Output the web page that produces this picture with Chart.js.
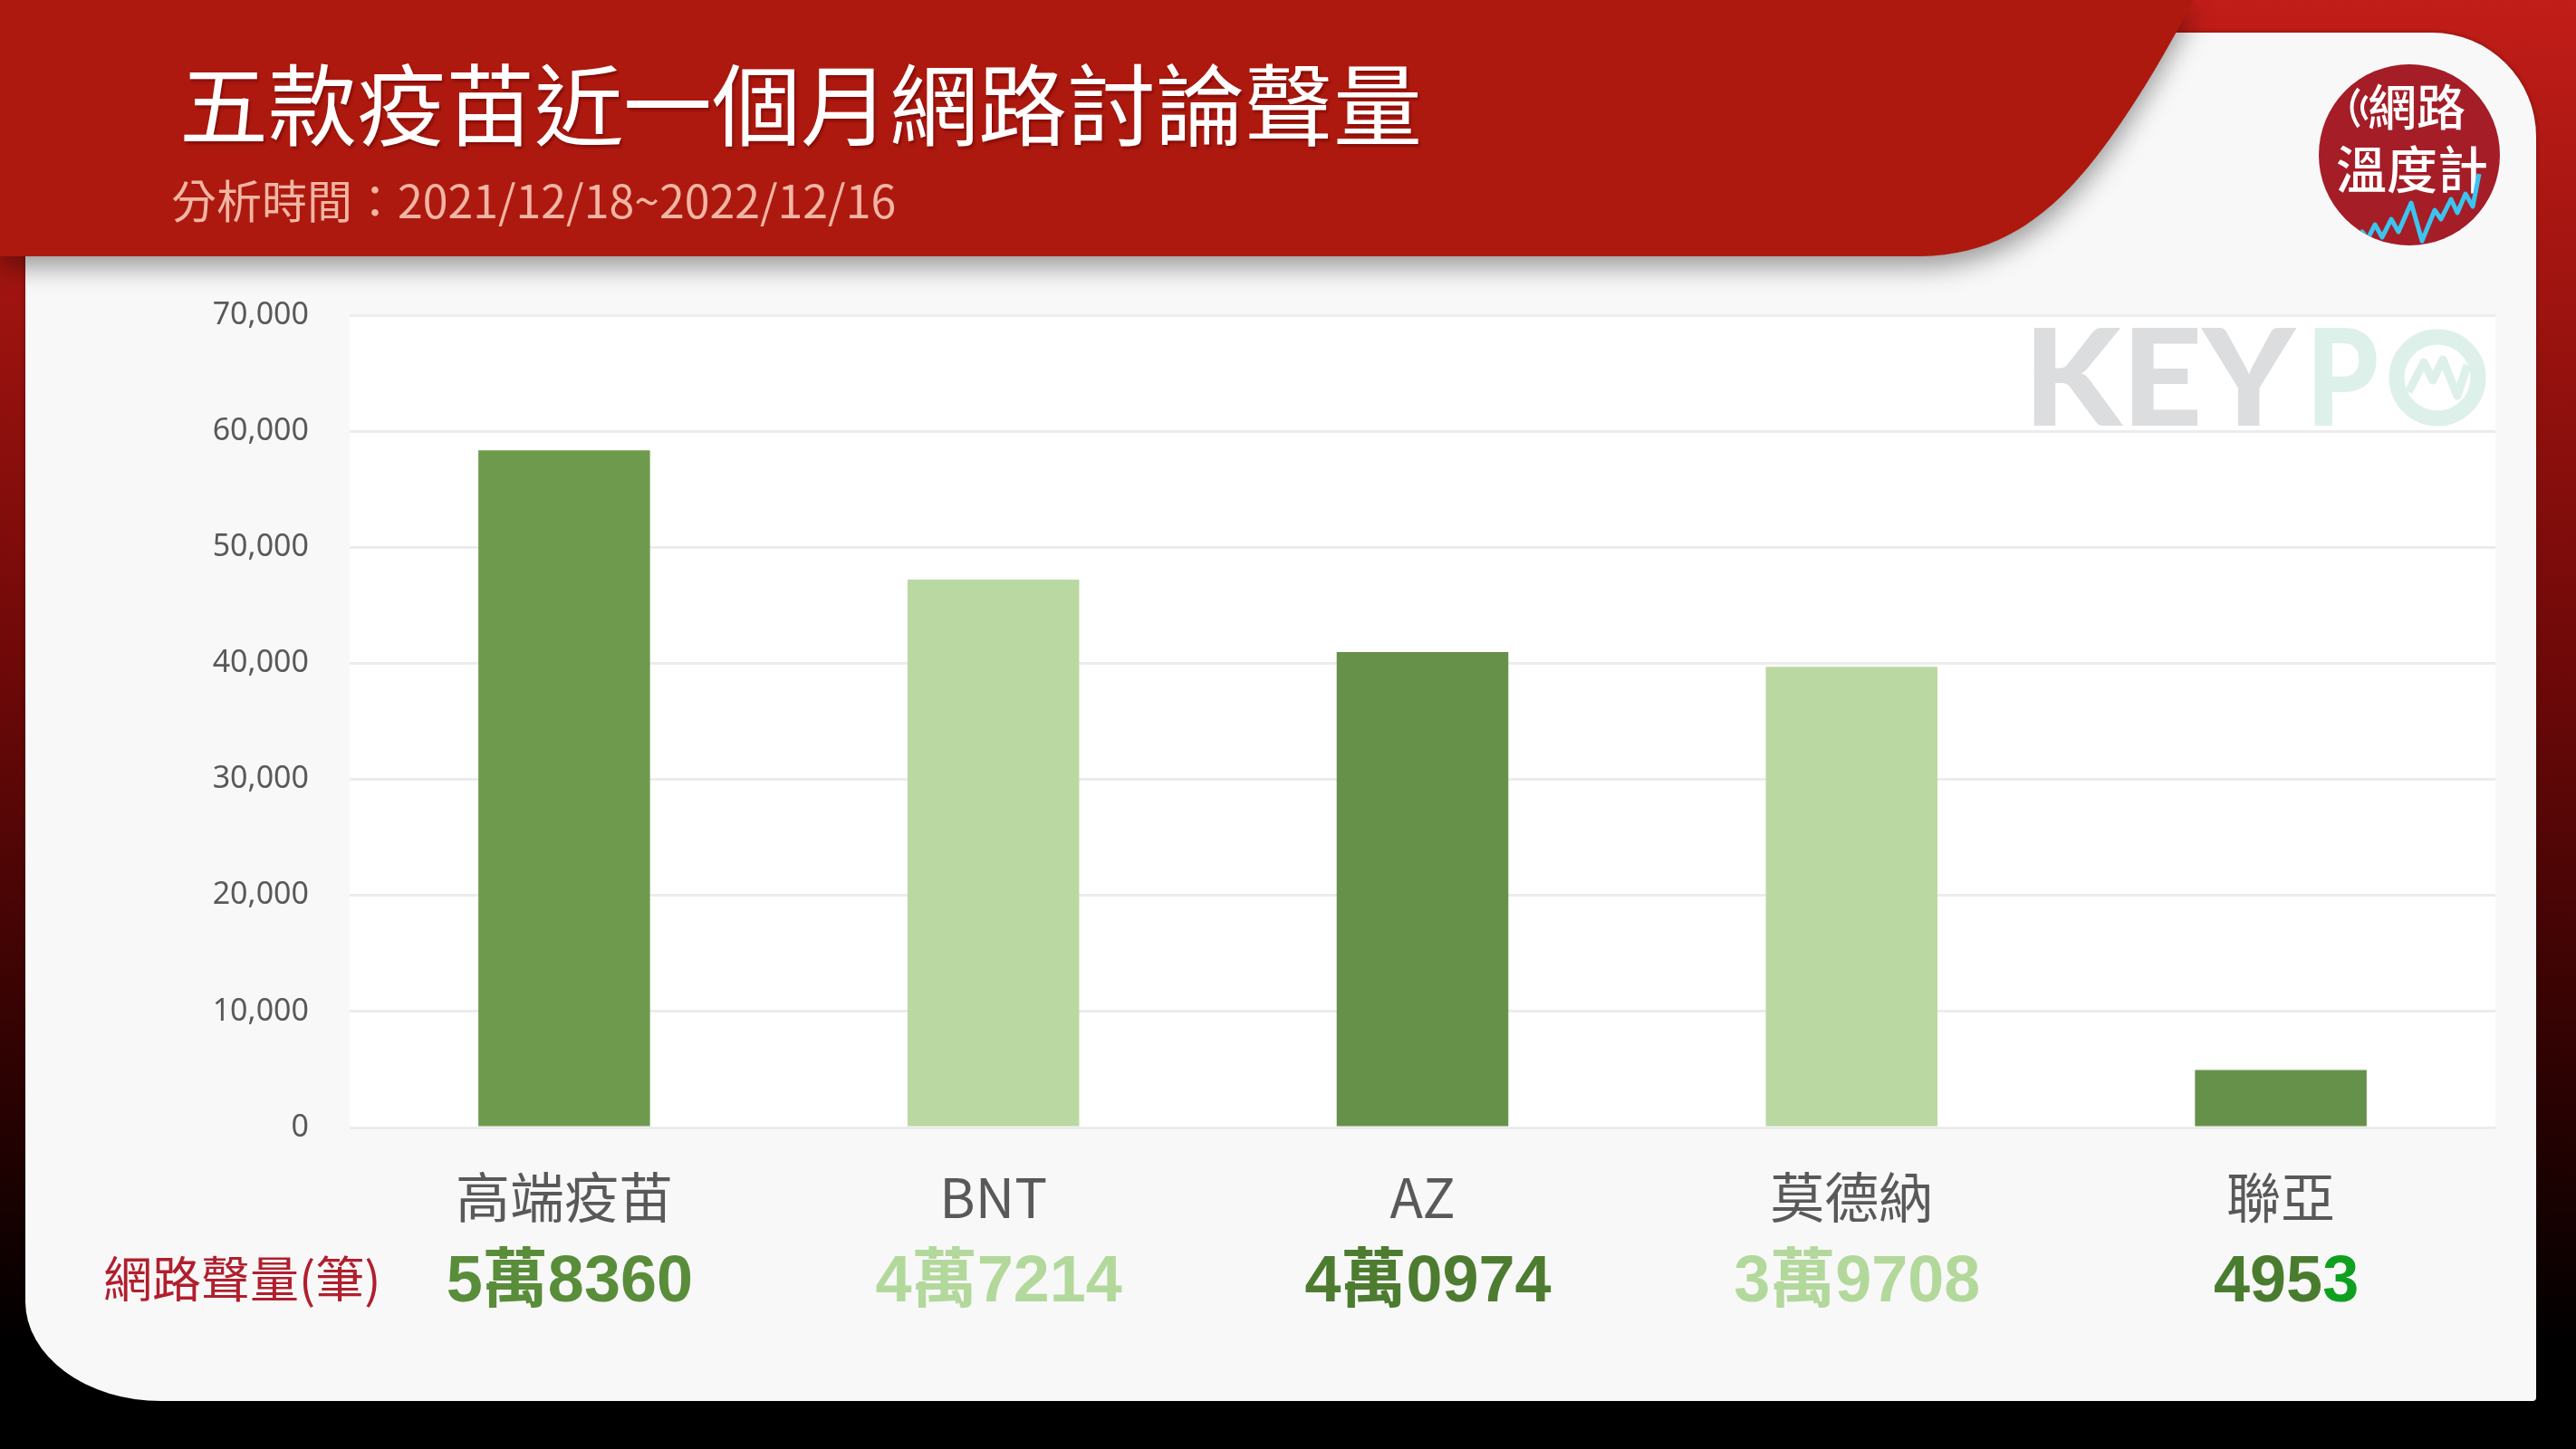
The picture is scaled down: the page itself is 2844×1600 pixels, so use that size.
<!DOCTYPE html>
<html>
<head>
<meta charset="utf-8">
<script src="https://cdn.jsdelivr.net/npm/chart.js@4.4.0/dist/chart.umd.min.js"></script>
<style>
  html, body { margin: 0; padding: 0; }
  body {
    width: 2844px; height: 1600px; position: relative; overflow: hidden;
    background: linear-gradient(to bottom, #c21d18 0%, #9c130f 22%, #6a0808 48%, #2e0202 74%, #000 93%);
    font-family: "Noto Sans CJK TC", "Noto Sans", sans-serif;
  }
  .card {
    position: absolute; left: 28px; top: 36px; width: 2772px; height: 1511px;
    background: #f8f8f8;
    border-radius: 0 115px 4px 150px / 0 115px 4px 110px;
    box-shadow: 0 0 5px rgba(0,0,0,0.35);
  }
  .abs { position: absolute; white-space: nowrap; line-height: 1; }
  #title { left: 198px; top: 61px; font-size: 98px; color: #fff; text-shadow: 2px 3px 3px rgba(90,0,0,0.45); }
  #subtitle { left: 189px; top: 194px; font-size: 50px; color: #f1b5a3; }
  #rowLabel { left: 114px; top: 1383px; font-size: 54px; color: #b01f2d; }
  canvas { position: absolute; left: 0; top: 0; }
  svg { position: absolute; left: 0; top: 0; }
</style>
</head>
<body>
<div class="card"></div>

<svg width="2844" height="1600" style="filter: drop-shadow(0 12px 14px rgba(0,0,0,0.38));">
  <path d="M0,0 L2422,0 C2390,60 2350,130 2305,185 C2255,245 2200,282 2120,283 L0,283 Z" fill="#ad190f"/>
</svg>

<div id="title" class="abs">五款疫苗近一個月網路討論聲量</div>
<div id="subtitle" class="abs">分析時間：2021/12/18~2022/12/16</div>
<div id="rowLabel" class="abs">網路聲量(筆)</div>

<canvas id="chart" width="2844" height="1600"></canvas>

<svg width="2844" height="1600" style="pointer-events:none;">
  <!-- KEYPO watermark -->
  <text x="2234" y="470" font-family="Lato, 'Open Sans', sans-serif" font-weight="900" font-size="148" fill="#dcdddf" textLength="300" lengthAdjust="spacingAndGlyphs">KEY</text>
  <text x="2546" y="470" font-family="Lato, 'Open Sans', sans-serif" font-weight="900" font-size="148" fill="#ddf0ea" textLength="80" lengthAdjust="spacingAndGlyphs">P</text>
  <circle cx="2691" cy="417" r="45" fill="none" stroke="#ddf0ea" stroke-width="17"/>
  <polyline points="2659,433 2676,400 2686,420 2697,397 2713,437 2724,403" fill="none" stroke="#ddf0ea" stroke-width="9" stroke-linejoin="round"/>

  <!-- badge -->
  <defs><clipPath id="badgeClip"><circle cx="2660" cy="171" r="100"/></clipPath></defs>
  <circle cx="2660" cy="171" r="100" fill="#a51d27"/>
  <path d="M2604,98 Q2589,118 2604,140" fill="none" stroke="#fff" stroke-width="4"/>
  <path d="M2613,106 Q2603,118 2613,132" fill="none" stroke="#fff" stroke-width="4"/>
  <text x="2668" y="139" text-anchor="middle" font-family="'Noto Sans CJK TC'" font-weight="500" font-size="54" fill="#fff">網路</text>
  <text x="2663" y="208" text-anchor="middle" font-family="'Noto Sans CJK TC'" font-weight="500" font-size="56" fill="#fff">溫度計</text>
  <polyline clip-path="url(#badgeClip)" points="2600,268 2608,256 2614,264 2622,248 2630,262 2640,242 2648,256 2662,224 2674,266 2688,232 2695,242 2706,220 2713,235 2722,214 2730,228 2737,192" fill="none" stroke="#3cc4f0" stroke-width="5" stroke-linejoin="round"/>
</svg>

<script>
// data
const categories = ["高端疫苗", "BNT", "AZ", "莫德納", "聯亞"];
const volumes = [58360, 47214, 40974, 39708, 4953];
const yMax = 70000;
const yStep = 10000;

// styles
const barColors = ["#6e9a4e", "#bad9a2", "#659148", "#bad9a2", "#66914a"];
const valueColors = ["#598d3a", "#b3d89b", "#4d7c30", "#b3d89b", "#4a7c2f"];
const lastCharColors = [null, null, null, null, "#10a020"];

// 58360 -> "5萬8360"
function formatVolume(v) {
  if (v < 10000) return String(v);
  return Math.floor(v / 10000) + "萬" + String(v % 10000).padStart(4, "0");
}

// paint the white plot area behind the grid
const plotBackground = {
  id: "plotBackground",
  beforeDraw(chart) {
    const { ctx, chartArea } = chart;
    ctx.save();
    ctx.fillStyle = "#ffffff";
    ctx.fillRect(chartArea.left, chartArea.top, chartArea.right - chartArea.left, chartArea.bottom - chartArea.top);
    ctx.restore();
  }
};

// the row of volume numbers under the category labels
const volumeRow = {
  id: "volumeRow",
  afterDraw(chart) {
    const { ctx, chartArea } = chart;
    const xScale = chart.scales.x;
    const baseline = chartArea.bottom + 192;
    ctx.save();
    ctx.font = 'bold 72px "Liberation Sans", Arial, "Noto Sans CJK TC", sans-serif';
    ctx.textBaseline = "alphabetic";
    ctx.textAlign = "left";
    volumes.forEach((v, i) => {
      const text = formatVolume(v);
      const cx = xScale.getPixelForValue(i) + 6;
      const total = ctx.measureText(text).width;
      let x = cx - total / 2;
      if (lastCharColors[i]) {
        const head = text.slice(0, -1);
        ctx.fillStyle = valueColors[i];
        ctx.fillText(head, x, baseline);
        x += ctx.measureText(head).width;
        ctx.fillStyle = lastCharColors[i];
        ctx.fillText(text.slice(-1), x, baseline);
      } else {
        ctx.fillStyle = valueColors[i];
        ctx.fillText(text, x, baseline);
      }
    });
    ctx.restore();
  }
};

const ctx = document.getElementById("chart").getContext("2d");
const chart = new Chart(ctx, {
  type: "bar",
  data: {
    labels: categories,
    datasets: [{
      data: volumes,
      backgroundColor: barColors,
      borderWidth: 0,
      barPercentage: 0.4,
      categoryPercentage: 1.0
    }]
  },
  options: {
    responsive: false,
    animation: false,
    devicePixelRatio: 1,
    layout: { padding: { left: 0, top: 348, right: 89, bottom: 215 } },
    plugins: { legend: { display: false }, tooltip: { enabled: false } },
    scales: {
      x: {
        grid: { display: false },
        border: { display: false },
        ticks: {
          color: "#595959",
          font: { family: '"Noto Sans CJK TC", sans-serif', size: 60 },
          padding: 33,
          maxRotation: 0
        },
        afterFit: (scale) => { scale.height = 140; }
      },
      y: {
        min: 0,
        max: yMax,
        border: { display: false },
        grid: { color: "#ececec", lineWidth: 3, drawTicks: false },
        ticks: {
          stepSize: yStep,
          color: "#595959",
          font: { family: '"Noto Sans", sans-serif', size: 34 },
          padding: 45,
          callback: (v) => v.toLocaleString("en-US")
        },
        afterFit: (scale) => { scale.width = 386; }
      }
    }
  },
  plugins: [plotBackground, volumeRow]
});
</script>
</body>
</html>
